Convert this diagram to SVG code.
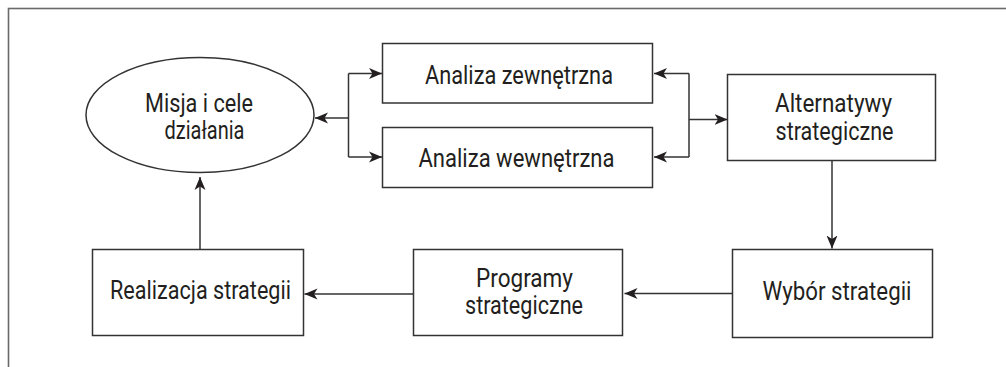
<svg xmlns="http://www.w3.org/2000/svg" width="1006" height="367" viewBox="0 0 1006 367">
  <style>
    .frame { fill: none; stroke: #6a6a6a; stroke-width: 1.6; }
    .node { fill: #ffffff; stroke: #333333; stroke-width: 1.5; }
    .lbl { font-family: Roboto, "Liberation Sans", sans-serif; font-size: 25px; fill: #231f20; }
    .wire { fill: none; stroke: #333333; stroke-width: 1.5; }
    .arr { marker-end: url(#head); }
  </style>
  <defs>
    <marker id="head" viewBox="-13 -6 14 12" refX="0" refY="0" markerWidth="14" markerHeight="12" markerUnits="userSpaceOnUse" orient="auto">
      <path d="M0,0 L-13,-5.5 L-9.5,0 L-13,5.5 Z" fill="#231f20"/>
    </marker>
  </defs>
  <rect width="1006" height="367" fill="#ffffff"/>

  <!-- page frame (runs off right and bottom edges) -->
  <rect class="frame" x="8.5" y="8.5" width="1010" height="370"/>

  <g id="connectors">
    <!-- fork between mission and the two analyses -->
    <path class="wire" d="M348.5,73.5 V157"/>
    <path class="wire arr" d="M348.5,73.5 H382"/>
    <path class="wire arr" d="M348.5,157 H382"/>
    <path class="wire arr" d="M348.5,118 H315"/>
    <!-- fork between analyses and alternatives -->
    <path class="wire" d="M689,73.5 V157"/>
    <path class="wire arr" d="M689,73.5 H654"/>
    <path class="wire arr" d="M689,157 H654"/>
    <path class="wire arr" d="M689,119.5 H727.5"/>
    <!-- lower loop -->
    <path class="wire arr" d="M832,160.5 V248.5"/>
    <path class="wire arr" d="M732.5,293.5 H624.5"/>
    <path class="wire arr" d="M413.5,294 H304.5"/>
    <path class="wire arr" d="M200,249.5 V177"/>
  </g>

  <g id="misja">
    <ellipse class="node" cx="200" cy="115" rx="114" ry="57.5"/>
    <text class="lbl" x="145" y="111.5" textLength="108" lengthAdjust="spacingAndGlyphs">Misja i cele</text>
    <text class="lbl" x="164.5" y="139" textLength="80" lengthAdjust="spacingAndGlyphs">działania</text>
  </g>

  <g id="analiza-zewnetrzna">
    <rect class="node" x="382.5" y="43.5" width="270" height="59.5"/>
    <text class="lbl" x="425" y="83.5" textLength="188" lengthAdjust="spacingAndGlyphs">Analiza zewnętrzna</text>
  </g>

  <g id="analiza-wewnetrzna">
    <rect class="node" x="382.5" y="127.5" width="270" height="60"/>
    <text class="lbl" x="418.5" y="166.5" textLength="196" lengthAdjust="spacingAndGlyphs">Analiza wewnętrzna</text>
  </g>

  <g id="alternatywy">
    <rect class="node" x="727.5" y="74.5" width="208" height="86"/>
    <text class="lbl" x="775" y="111.5" textLength="117" lengthAdjust="spacingAndGlyphs">Alternatywy</text>
    <text class="lbl" x="775.5" y="140" textLength="118" lengthAdjust="spacingAndGlyphs">strategiczne</text>
  </g>

  <g id="wybor">
    <rect class="node" x="732.5" y="249.5" width="200" height="88"/>
    <text class="lbl" x="762.5" y="299.5" textLength="149" lengthAdjust="spacingAndGlyphs">Wybór strategii</text>
  </g>

  <g id="programy">
    <rect class="node" x="413.5" y="249.5" width="209" height="86"/>
    <text class="lbl" x="476" y="286.5" textLength="97" lengthAdjust="spacingAndGlyphs">Programy</text>
    <text class="lbl" x="465" y="314" textLength="118" lengthAdjust="spacingAndGlyphs">strategiczne</text>
  </g>

  <g id="realizacja">
    <rect class="node" x="92.5" y="249.5" width="211" height="86"/>
    <text class="lbl" x="110" y="298.5" textLength="181" lengthAdjust="spacingAndGlyphs">Realizacja strategii</text>
  </g>
</svg>
